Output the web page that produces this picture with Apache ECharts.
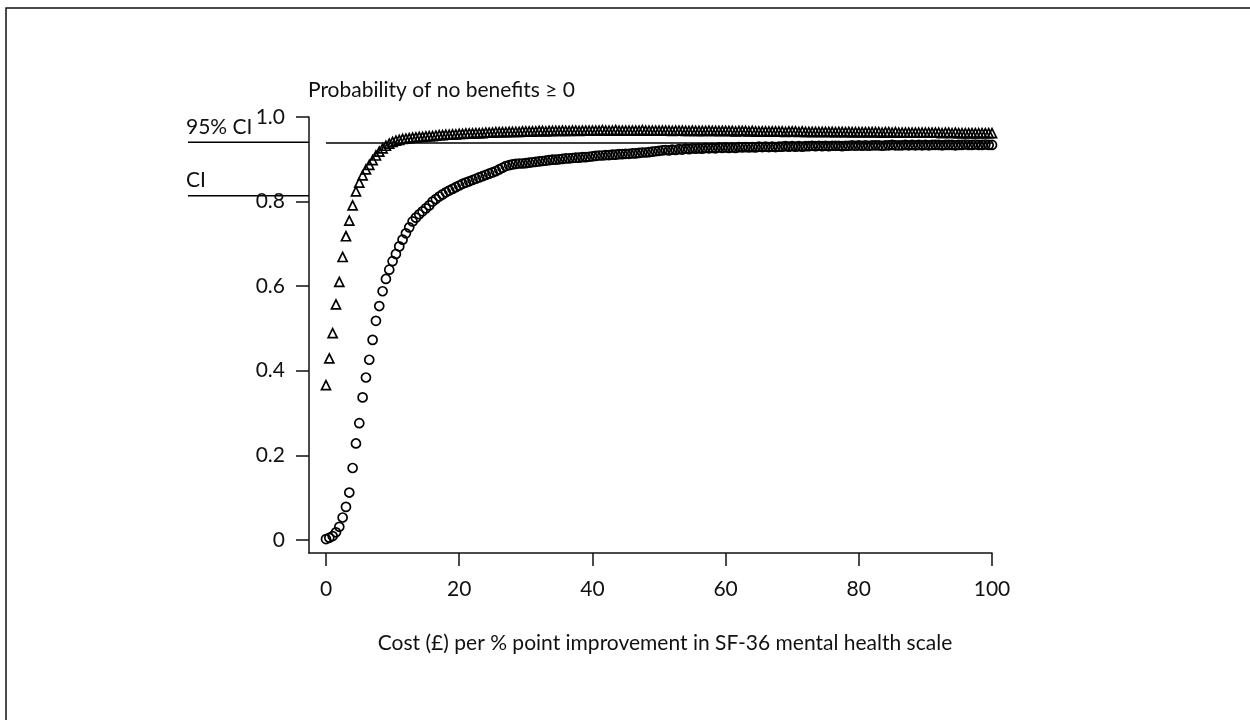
<!DOCTYPE html>
<html>
<head>
<meta charset="utf-8">
<script src="https://cdn.jsdelivr.net/npm/echarts@6/dist/echarts.min.js"></script>
<style>
html,body{margin:0;padding:0;background:#fff;}
#chart{width:1250px;height:720px;}
</style>
</head>
<body>
<div id="chart"></div>
<script>
// cost per % point improvement (x), step of 0.5
var costs=[0,0.5,1,1.5,2,2.5,3,3.5,4,4.5,5,5.5,6,6.5,7,7.5,8,8.5,9,9.5,
10,10.5,11,11.5,12,12.5,13,13.5,14,14.5,15,15.5,16,16.5,17,17.5,18,18.5,19,19.5,
20,20.5,21,21.5,22,22.5,23,23.5,24,24.5,25,25.5,26,26.5,27,27.5,28,28.5,29,29.5,
30,30.5,31,31.5,32,32.5,33,33.5,34,34.5,35,35.5,36,36.5,37,37.5,38,38.5,39,39.5,
40,40.5,41,41.5,42,42.5,43,43.5,44,44.5,45,45.5,46,46.5,47,47.5,48,48.5,49,49.5,
50,50.5,51,51.5,52,52.5,53,53.5,54,54.5,55,55.5,56,56.5,57,57.5,58,58.5,59,59.5,
60,60.5,61,61.5,62,62.5,63,63.5,64,64.5,65,65.5,66,66.5,67,67.5,68,68.5,69,69.5,
70,70.5,71,71.5,72,72.5,73,73.5,74,74.5,75,75.5,76,76.5,77,77.5,78,78.5,79,79.5,
80,80.5,81,81.5,82,82.5,83,83.5,84,84.5,85,85.5,86,86.5,87,87.5,88,88.5,89,89.5,
90,90.5,91,91.5,92,92.5,93,93.5,94,94.5,95,95.5,96,96.5,97,97.5,98,98.5,99,99.5,100];

// triangles (upper curve)
var triangleProb=[0.366,0.429,0.489,0.557,0.610,0.669,0.718,0.755,0.791,0.824,
0.845,0.862,0.876,0.887,0.898,0.909,0.918,0.926,0.932,0.937,
0.941,0.944,0.946,0.948,0.949,0.950,0.951,0.952,0.953,0.953,
0.954,0.955,0.955,0.956,0.957,0.957,0.958,0.958,0.959,0.959,
0.960,
0.960,0.961,0.961,0.961,0.962,0.962,0.962,0.963,0.963,0.963,
0.964,0.964,0.964,0.964,0.965,0.965,0.965,0.965,0.966,0.966,
0.966,0.966,0.966,0.967,0.967,0.966,0.967,0.967,0.967,0.967,
0.968,0.967,0.967,0.968,0.968,0.967,0.968,0.968,0.968,0.968,
0.968,0.968,0.969,0.968,0.968,0.968,0.969,0.968,0.968,0.968,
0.968,0.968,0.968,0.968,0.969,0.968,0.968,0.968,0.968,0.968,
0.968,0.968,0.968,0.967,0.968,0.968,0.968,0.967,0.967,0.968,
0.967,0.967,0.967,0.967,0.968,0.967,0.967,0.967,0.967,0.967,
0.967,0.967,0.966,0.967,0.967,0.967,0.966,0.967,0.966,0.966,
0.966,0.966,0.966,0.966,0.966,0.966,0.966,0.965,0.966,0.966,
0.966,0.965,0.966,0.965,0.965,0.965,0.965,0.965,0.965,0.965,
0.965,0.965,0.964,0.965,0.965,0.964,0.965,0.964,0.964,0.964,
0.964,0.964,0.964,0.964,0.964,0.964,0.963,0.964,0.964,0.963,
0.964,0.963,0.963,0.963,0.963,0.963,0.963,0.963,0.963,0.963,
0.963,0.963,0.963,0.963,0.962,0.963,0.963,0.962,0.963,0.962,
0.962,0.962,0.962,0.962,0.962,0.962,0.962,0.962,0.962,0.962];

// circles (lower curve)
var circleProb=[0.002,0.005,0.009,0.018,0.031,0.053,0.078,0.112,0.170,0.228,
0.276,0.337,0.384,0.426,0.473,0.518,0.553,0.588,0.617,0.639,
0.659,0.676,0.694,0.710,0.725,0.739,0.753,0.762,0.770,0.777,
0.784,
0.791,0.800,0.806,0.812,0.817,0.822,0.826,0.830,0.834,0.838,
0.842,0.845,0.848,0.851,0.854,0.857,0.860,0.863,0.866,0.869,
0.872,0.876,0.880,0.884,0.886,0.888,0.889,0.890,0.890,0.891,
0.892,0.893,0.894,0.895,0.896,0.897,0.898,0.899,0.899,0.900,
0.901,0.902,0.902,0.903,0.904,0.904,0.905,0.905,0.906,0.907,
0.908,0.909,0.909,0.910,0.910,0.911,0.911,0.912,0.912,0.913,
0.913,0.914,0.914,0.915,0.916,0.916,0.917,0.918,0.919,0.920,
0.921,0.922,0.921,0.923,0.922,0.924,0.923,0.925,0.924,0.926,
0.925,0.926,0.925,0.927,0.926,0.927,0.926,0.928,0.927,0.928,
0.927,0.928,0.927,0.929,0.928,0.929,0.928,0.929,0.928,0.930,
0.929,0.930,0.929,0.930,0.929,0.930,0.930,0.931,0.930,0.931,
0.930,0.931,0.930,0.931,0.931,0.932,0.931,0.932,0.931,0.932,
0.931,0.932,0.932,0.932,0.931,0.932,0.932,0.933,0.932,0.933,
0.932,0.933,0.932,0.933,0.933,0.933,0.932,0.933,0.933,0.934,
0.933,0.933,0.933,0.934,0.933,0.934,0.933,0.934,0.933,0.934,
0.933,0.934,0.934,0.934,0.933,0.934,0.934,0.934,0.933,0.934,
0.934,0.935,0.934,0.934,0.935,0.934,0.934,0.935,0.934,0.934];

var xTicks=[0,20,40,60,80,100];
var yTicks=[0,0.2,0.4,0.6,0.8,1.0];
var ci95=0.94;   // 95% CI line
var ciLow=0.814; // CI line

var FONT='Lato';
var FSIZE=21;

function pairs(xs,ys){
	var out=[];
	for(var i=0;i<xs.length;i++){ out.push([xs[i],ys[i]]); }
	return out;
}

var myChart=echarts.init(document.getElementById('chart'));
var option={
	animation:false,
	backgroundColor:'#fff',
	grid:{left:309,right:258,top:117,bottom:167},
	xAxis:{
		type:'value',
		min:-2.55,
		max:100,
		axisLine:{show:true,onZero:false,lineStyle:{color:'#111',width:1.5}},
		axisTick:{show:true,customValues:xTicks,length:13,lineStyle:{color:'#111',width:1.5}},
		axisLabel:{customValues:xTicks,margin:26,color:'#111',fontFamily:FONT,fontSize:FSIZE},
		splitLine:{show:false}
	},
	yAxis:{
		type:'value',
		min:-0.031,
		max:1,
		axisLine:{show:true,onZero:false,lineStyle:{color:'#111',width:1.5}},
		axisTick:{show:true,customValues:yTicks,length:13,lineStyle:{color:'#111',width:1.5}},
		axisLabel:{customValues:yTicks,margin:24,color:'#111',fontFamily:FONT,fontSize:FSIZE,
			formatter:function(v){ return v===0?'0':v.toFixed(1); }},
		splitLine:{show:false}
	},
	series:[
		{
			name:'circles',
			type:'scatter',
			symbol:'circle',
			symbolSize:9,
			itemStyle:{color:'rgba(0,0,0,0)',borderColor:'#000',borderWidth:1.7,opacity:1},
			data:pairs(costs,circleProb),
			markLine:{
				silent:true,
				symbol:['none','none'],
				label:{show:false},
				lineStyle:{color:'#000',width:1.5,type:'solid'},
				data:[[{coord:[0,ci95]},{coord:[100,ci95]}]]
			}
		},
		{
			name:'triangles',
			type:'scatter',
			symbol:'triangle',
			symbolSize:9,
			itemStyle:{color:'rgba(0,0,0,0)',borderColor:'#000',borderWidth:1.7,opacity:1},
			data:pairs(costs,triangleProb)
		}
	]
};
myChart.setOption(option);

// annotations outside the plot: y positions from the axis scale
var y95=myChart.convertToPixel({gridIndex:0},[0,ci95])[1];
var yCi=myChart.convertToPixel({gridIndex:0},[0,ciLow])[1];
var axisX=myChart.convertToPixel({gridIndex:0},[-2.55,0])[0];

myChart.setOption({
	graphic:[
		{type:'rect',shape:{x:6,y:8,width:1400,height:900},style:{fill:'none',stroke:'#111',lineWidth:1.5},silent:true},
		{type:'line',shape:{x1:188,y1:y95,x2:axisX,y2:y95},style:{stroke:'#000',lineWidth:1.5}},
		{type:'line',shape:{x1:188,y1:yCi,x2:axisX,y2:yCi},style:{stroke:'#000',lineWidth:1.5}},
		{type:'text',x:186,y:y95-5,style:{text:'95% CI',font:FSIZE+'px '+FONT,fill:'#111',textAlign:'left',textVerticalAlign:'bottom'}},
		{type:'text',x:186,y:yCi-5,style:{text:'CI',font:FSIZE+'px '+FONT,fill:'#111',textAlign:'left',textVerticalAlign:'bottom'}},
		{type:'text',x:308,y:90,style:{text:'Probability of no benefits \u2265 0',font:FSIZE+'px '+FONT,fill:'#111',textAlign:'left',textVerticalAlign:'middle'}},
		{type:'text',x:665,y:643,style:{text:'Cost (\u00a3) per % point improvement in SF-36 mental health scale',font:FSIZE+'px '+FONT,fill:'#111',textAlign:'center',textVerticalAlign:'middle'}}
	]
});
</script>
</body>
</html>
